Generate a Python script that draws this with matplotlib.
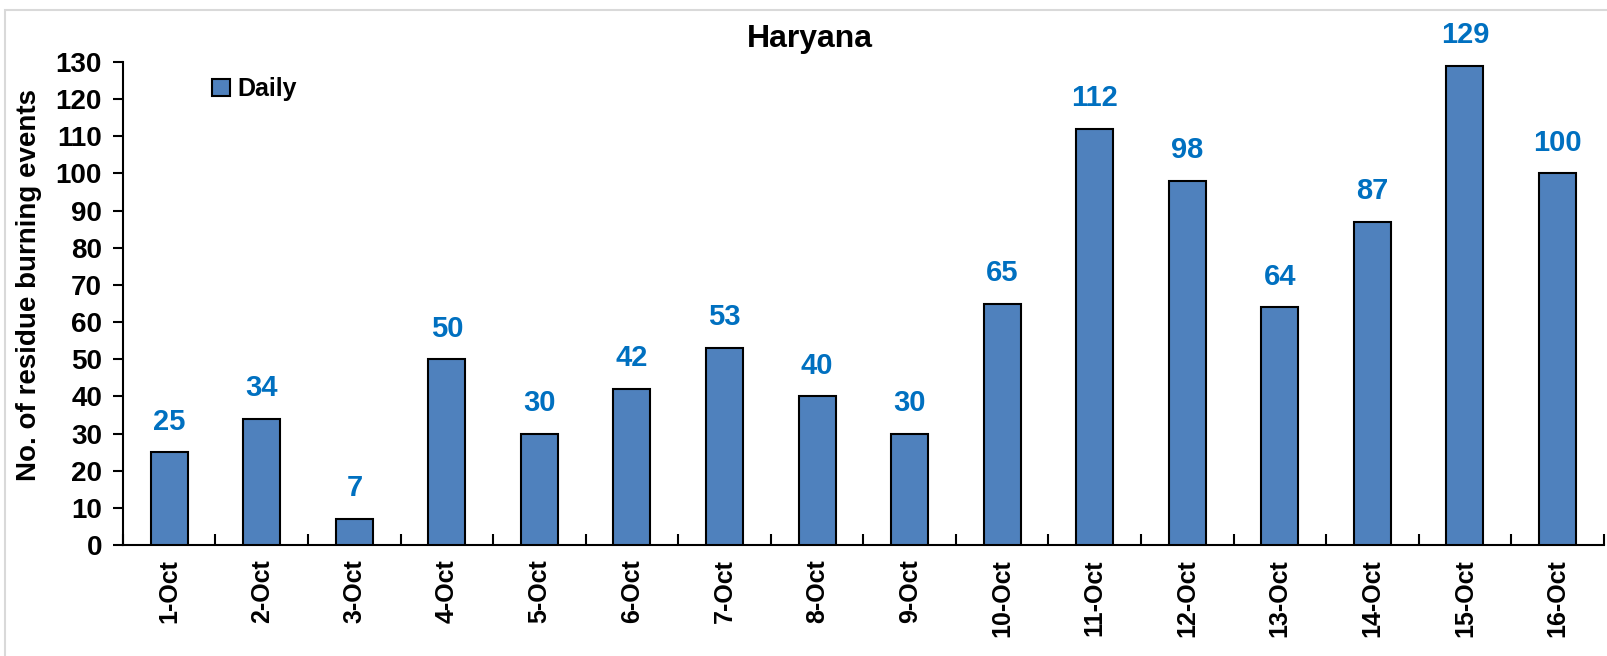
import matplotlib.pyplot as plt
import numpy as np
from matplotlib.patches import Rectangle

dates = ['1-Oct', '2-Oct', '3-Oct', '4-Oct', '5-Oct', '6-Oct', '7-Oct', '8-Oct',
         '9-Oct', '10-Oct', '11-Oct', '12-Oct', '13-Oct', '14-Oct', '15-Oct', '16-Oct']
daily = [25, 34, 7, 50, 30, 42, 53, 40, 30, 65, 112, 98, 64, 87, 129, 100]

plt.rcParams['font.family'] = ['Liberation Sans', 'DejaVu Sans']
plt.rcParams['font.weight'] = 'bold'

fig = plt.figure(figsize=(16.07, 6.56), dpi=100)
fig.patches.append(Rectangle((0.003, -0.05), 1.2, 1.035, transform=fig.transFigure,
                             fill=False, edgecolor='#d9d9d9', linewidth=1.5))
ax = fig.add_axes([0.0765, 0.169, 0.9215, 0.7365])

x = np.arange(len(dates))
bars = ax.bar(x, daily, width=0.4, color='#4F81BD', edgecolor='black', linewidth=1.5,
              label='Daily', zorder=3)

for xi, v in zip(x, daily):
    ax.annotate(str(v), (xi, v), xytext=(0, 12), textcoords='offset points',
                ha='center', va='bottom', color='#0070C0', fontsize=21, fontweight='bold')

ax.set_xlim(-0.5, len(dates) - 0.5)
ax.set_ylim(0, 130)
ax.set_yticks(range(0, 131, 10))
ax.set_xticks(x)
ax.set_xticklabels(dates, rotation=90, fontsize=18, fontweight='bold')
ax.set_xticks(np.arange(-0.5, len(dates)), minor=True)
ax.tick_params(axis='x', which='major', length=0, pad=10)
ax.tick_params(axis='x', which='minor', direction='in', length=8, width=1.5)
ax.tick_params(axis='y', direction='out', length=7, width=1.5, labelsize=20, pad=8)
for lab in ax.get_yticklabels():
    lab.set_fontweight('bold')

for s in ['top', 'right']:
    ax.spines[s].set_visible(False)
for s in ['left', 'bottom']:
    ax.spines[s].set_linewidth(1.5)

ax.set_ylabel('No. of residue burning events', fontsize=20, fontweight='bold')
ax.yaxis.set_label_coords(-0.0547, 0.538)
fig.text(0.504, 0.94, 'Haryana', ha='center', va='center', fontsize=23, fontweight='bold')

leg = ax.legend(loc='upper left', bbox_to_anchor=(0.045, 1.015), frameon=False,
                fontsize=18, handlelength=0.7, handleheight=0.7, handletextpad=0.3)
for t in leg.get_texts():
    t.set_fontweight('bold')

fig.savefig('out.png', dpi=100)
